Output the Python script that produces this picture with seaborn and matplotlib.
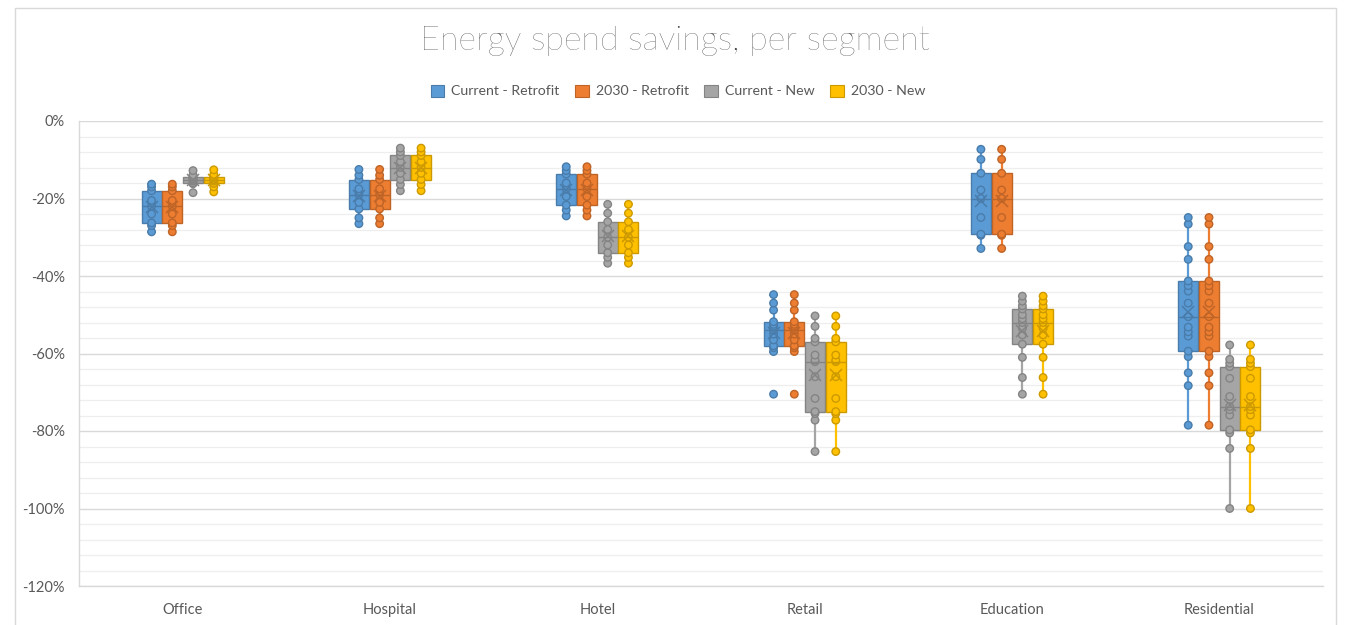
import numpy as np
import pandas as pd
import matplotlib
matplotlib.use("Agg")
import matplotlib.pyplot as plt
import matplotlib.colors as mcolors
from matplotlib.patches import Patch, Rectangle
from matplotlib.ticker import MultipleLocator, FuncFormatter
import seaborn as sns

# ---- data: energy spend savings (%) per building segment ----
segments = ["Office", "Hospital", "Hotel", "Retail", "Education", "Residential"]
series = ["Current - Retrofit", "2030 - Retrofit", "Current - New", "2030 - New"]
series_colors = ["#5B9BD5", "#ED7D31", "#A5A5A5", "#FFC000"]

office_current_retrofit = [-28.6, -27.0, -26.3, -24.0, -22.0, -20.5, -18.0, -17.0, -16.3]
office_2030_retrofit = [-28.6, -27.0, -26.3, -24.0, -22.0, -20.5, -18.0, -17.0, -16.3]
office_current_new = [-18.5, -16.2, -16.0, -15.5, -15.2, -15.0, -14.5, -14.0, -12.8]
office_2030_new = [-18.3, -17.0, -16.1, -15.5, -15.2, -15.0, -14.5, -13.8, -12.6]

hospital_current_retrofit = [-26.5, -25.0, -22.7, -21.0, -19.0, -17.5, -15.1, -14.0, -12.5]
hospital_2030_retrofit = [-26.5, -25.0, -22.7, -21.0, -19.0, -17.5, -15.1, -14.0, -12.5]
hospital_current_new = [-18.0, -16.4, -15.1, -13.5, -12.0, -10.5, -8.9, -8.0, -7.0]
hospital_2030_new = [-18.0, -16.4, -15.1, -13.5, -12.0, -10.5, -8.9, -8.0, -7.0]

hotel_current_retrofit = [-24.5, -23.0, -21.7, -19.5, -17.5, -16.0, -13.7, -12.8, -11.8]
hotel_2030_retrofit = [-24.5, -23.0, -21.7, -19.5, -17.5, -16.0, -13.7, -12.8, -11.8]
hotel_current_new = [-36.7, -35.2, -34.0, -32.0, -30.0, -28.0, -26.0, -23.8, -21.5]
hotel_2030_new = [-36.7, -35.2, -34.0, -32.0, -30.0, -28.0, -26.0, -23.8, -21.5]

retail_current_retrofit = [-70.5, -59.5, -58.5, -58.0, -56.5, -55.0, -54.0, -53.0,
                           -52.5, -51.8, -48.8, -47.0, -44.8]
retail_2030_retrofit = [-70.5, -59.5, -58.5, -58.0, -56.5, -55.0, -54.0, -53.0,
                        -52.5, -51.8, -48.8, -47.0, -44.8]
retail_current_new = [-85.3, -77.2, -75.5, -75.0, -71.6, -66.0, -62.1, -61.7,
                      -60.4, -57.0, -56.1, -53.0, -50.3]
retail_2030_new = [-85.3, -77.2, -75.5, -75.0, -71.6, -66.0, -62.1, -61.7,
                   -60.4, -57.0, -56.1, -53.0, -50.3]

education_current_retrofit = [-32.9, -29.5, -29.2, -24.9, -20.0, -17.8, -13.5, -9.9, -7.3]
education_2030_retrofit = [-32.9, -29.5, -29.2, -24.9, -20.0, -17.8, -13.5, -9.9, -7.3]
education_current_new = [-70.5, -66.2, -61.0, -57.6, -55.2, -53.5, -52.0, -51.0,
                         -50.0, -48.5, -47.7, -46.5, -45.2]
education_2030_new = [-70.5, -66.2, -61.0, -57.6, -55.2, -53.5, -52.0, -51.0,
                      -50.0, -48.5, -47.7, -46.5, -45.2]

residential_current_retrofit = [-78.5, -68.3, -65.0, -60.8, -59.4, -55.5, -54.4, -53.2, -50.5,
                                -47.0, -43.9, -42.5, -41.3, -35.7, -32.4, -26.6, -24.9]
residential_2030_retrofit = [-78.5, -68.3, -65.0, -60.8, -59.4, -55.5, -54.4, -53.2, -50.5,
                             -47.0, -43.9, -42.5, -41.3, -35.7, -32.4, -26.6, -24.9]
residential_current_new = [-100.0, -84.5, -80.5, -79.7, -75.9, -74.5, -73.7, -71.1,
                           -66.4, -63.4, -62.5, -61.5, -57.8]
residential_2030_new = [-100.0, -84.5, -80.5, -79.7, -75.9, -74.5, -73.7, -71.1,
                        -66.4, -63.4, -62.5, -61.5, -57.8]

table = {
    "Office": [office_current_retrofit, office_2030_retrofit, office_current_new, office_2030_new],
    "Hospital": [hospital_current_retrofit, hospital_2030_retrofit, hospital_current_new, hospital_2030_new],
    "Hotel": [hotel_current_retrofit, hotel_2030_retrofit, hotel_current_new, hotel_2030_new],
    "Retail": [retail_current_retrofit, retail_2030_retrofit, retail_current_new, retail_2030_new],
    "Education": [education_current_retrofit, education_2030_retrofit, education_current_new, education_2030_new],
    "Residential": [residential_current_retrofit, residential_2030_retrofit,
                    residential_current_new, residential_2030_new],
}

rows = []
for seg in segments:
    for name, values in zip(series, table[seg]):
        for v in values:
            rows.append((seg, name, v))
df = pd.DataFrame(rows, columns=["segment", "series", "saving"])

# ---- style ----
sns.set_style("white")
plt.rcParams["font.family"] = ["Lato", "DejaVu Sans"]
TEXT = "#595959"


def darken(c, f=0.8):
    r, g, b = mcolors.to_rgb(c)
    return (r * f, g * f, b * f)


palette = dict(zip(series, series_colors))
dark = [darken(c) for c in series_colors]

W, H = 1347, 625
fig = plt.figure(figsize=(W / 100, H / 100), dpi=100)
ax = fig.add_axes([79 / W, 1 - 586 / H, (1323 - 79) / W, (586 - 121) / H])

sns.boxplot(
    data=df, x="segment", y="saving", hue="series",
    order=segments, hue_order=series, palette=palette,
    width=0.4, gap=0.03, saturation=1, whis=1.5,
    showfliers=False, showmeans=True, linewidth=1,
    meanprops=dict(marker="x", markersize=8, markeredgewidth=1.1),
    legend=False, ax=ax,
)

# recolour box parts per series, Excel style
for cont, col, dk in zip(ax.containers, series_colors, dark):
    for box in cont.boxes:
        box.set_facecolor(col)
        box.set_edgecolor(dk)
        box.set_linewidth(1)
    for ln in cont.whiskers:
        ln.set_color(col)
        ln.set_linewidth(1.6)
        ln.set_zorder(2.5)
    for ln in cont.caps:
        xs = ln.get_xdata()
        c = 0.5 * (xs[0] + xs[1])
        ln.set_xdata([c - 0.015, c + 0.015])
        ln.set_color(col)
        ln.set_linewidth(1.6)
    for ln in cont.medians:
        ln.set_color(dk)
        ln.set_linewidth(1)
        ln.set_zorder(4)
    for ln in cont.means:
        ln.set_markeredgecolor(dk)
        ln.set_markerfacecolor(dk)
        ln.set_zorder(5)

# individual data points, dodged into the same slots as the boxes
slots = ["_l2", "_l1"] + series + ["_r1", "_r2"]
slot_palette = dict(palette)
for s in ["_l2", "_l1", "_r1", "_r2"]:
    slot_palette[s] = "#FFFFFF"
n_before = len(ax.collections)
sns.stripplot(
    data=df, x="segment", y="saving", hue="series",
    order=segments, hue_order=slots, palette=slot_palette,
    dodge=True, jitter=False, size=5.4, linewidth=1,
    legend=False, ax=ax,
)
for coll in ax.collections[n_before:]:
    fc = coll.get_facecolor()
    if len(fc):
        coll.set_edgecolor(darken(fc[0][:3], 0.8))
    coll.set_zorder(3)

# ---- axes ----
ax.set_xlim(-0.5, len(segments) - 0.5)
ax.set_ylim(-120, 0)
ax.yaxis.set_major_locator(MultipleLocator(20))
ax.yaxis.set_minor_locator(MultipleLocator(4))
ax.yaxis.set_major_formatter(FuncFormatter(lambda v, p: f"{v:.0f}%"))
ax.grid(False)
ax.yaxis.grid(True, which="major", color="#D9D9D9", linewidth=1)
ax.yaxis.grid(True, which="minor", color="#EEEEEE", linewidth=0.9)
ax.set_axisbelow(True)
ax.set_xlabel("")
ax.set_ylabel("")
for side in ["top", "right"]:
    ax.spines[side].set_visible(False)
for side in ["left", "bottom"]:
    ax.spines[side].set_color("#D9D9D9")
    ax.spines[side].set_linewidth(1)
ax.tick_params(axis="both", which="both", length=0, colors=TEXT, labelsize=10.5)
ax.tick_params(axis="x", pad=12)
ax.tick_params(axis="y", pad=10)

# legend
handles = [Patch(facecolor=c, edgecolor=d, linewidth=0.8) for c, d in zip(series_colors, dark)]
fig.legend(
    handles, series, loc="center", bbox_to_anchor=(678 / W, 1 - 91 / H), ncol=4,
    frameon=False, fontsize=10.2, handlelength=0.95, handleheight=0.95,
    handletextpad=0.5, columnspacing=1.1, labelcolor=TEXT,
)

# title
fig.text(675 / W, 1 - 41 / H, "Energy spend savings, per segment", ha="center", va="center",
         fontsize=24.5, color="#404040", fontweight="light")

# chart-area border
fig.add_artist(Rectangle((15 / W, -0.05), (1336 - 15) / W, 1.05 - 8 / H,
                         transform=fig.transFigure, fill=False,
                         edgecolor="#D9D9D9", linewidth=1))

fig.savefig("out.png", dpi=100, facecolor="white")
